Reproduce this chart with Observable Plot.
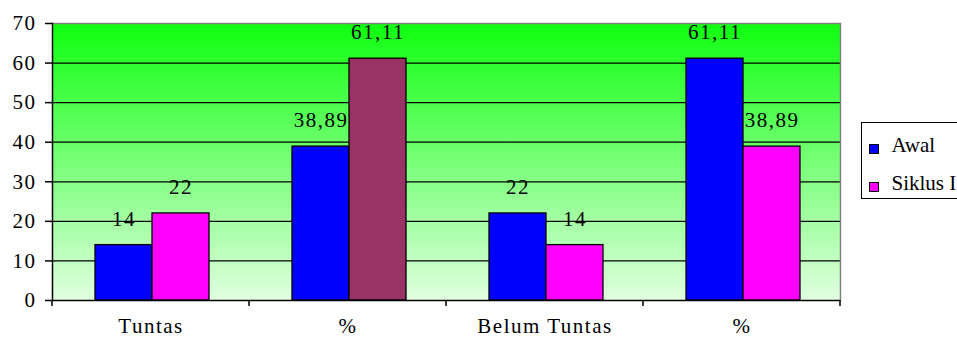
<!DOCTYPE html>
<html>
<head>
<meta charset="utf-8">
<script src="https://cdn.jsdelivr.net/npm/d3@7"></script>
<script src="https://cdn.jsdelivr.net/npm/@observablehq/plot@0.6"></script>
<style>
  body { margin: 0; background: #fff; }
  #wrap { position: relative; width: 957px; height: 337px; overflow: hidden; color: #000; }
  #wrap svg { position: absolute; left: 0; top: 0; }
  #wrap svg text { letter-spacing: 1.5px; }
  #legend { position: absolute; left: 861px; top: 122px; width: 110px; height: 77px;
            border: 1.5px solid #000; box-sizing: border-box; background: #fff; }
  #legend .sw { position: absolute; left: 6.5px; width: 10px; height: 10px;
                border: 1px solid #000; box-sizing: border-box; }
  #legend .lb { position: absolute; left: 29.5px; font-size: 21px; line-height: 20px; white-space: nowrap; }
</style>
</head>
<body>
<div id="wrap"></div>
<script>
// Categories along the x axis and the two series per category
const categories = ["Tuntas", "%", "Belum Tuntas", "%"];
const series = ["Awal", "Siklus I"];
const awal = [14, 38.89, 22, 61.11];
const siklusI = [22, 61.11, 14, 38.89];
const yTicks = [0, 10, 20, 30, 40, 50, 60, 70];

const seriesColors = ["#0000ff", "#ff00ff"];
const accentColor = "#993366";   // the Siklus I bar of the first "%" group
const accentGroup = 1;

const rows = categories.flatMap((c, i) => [
  {cat: i, series: series[0], value: awal[i]},
  {cat: i, series: series[1], value: siklusI[i]}
]);

const fillOf = d => (d.series === series[1] && d.cat === accentGroup)
  ? accentColor : seriesColors[series.indexOf(d.series)];
const fmt = v => String(v).replace(".", ",");
const catLabel = i => categories[i];

// pick the first Times-like face that is actually installed
function pickSerif(candidates) {
  const ctx = document.createElement("canvas").getContext("2d");
  const probe = "mmmmmmmmmmlliWWQ0123456789";
  const width = f => { ctx.font = "72px " + f; return ctx.measureText(probe).width; };
  const baseMono = width("monospace"), baseSans = width("sans-serif");
  for (const c of candidates) {
    if (width(`"${c}", monospace`) !== baseMono || width(`"${c}", sans-serif`) !== baseSans) return `"${c}"`;
  }
  return "serif";
}
const serif = pickSerif(["Liberation Serif", "Times New Roman", "Tinos", "Nimbus Roman", "FreeSerif",
                         "DejaVu Serif", "Noto Serif"]) + ", serif";
document.getElementById("wrap").style.fontFamily = serif;

const chart = Plot.plot({
  width: 957,
  height: 337,
  marginTop: 23,
  marginBottom: 37,
  marginLeft: 52,
  marginRight: 117,
  style: {fontFamily: serif, fontSize: "21px", color: "#000", background: "transparent"},
  fx: {domain: d3.range(categories.length), padding: 0, label: null},
  x: {domain: series, paddingInner: 0, paddingOuter: 0.728, align: 0.52, axis: null},
  y: {domain: [0, 70]},
  marks: [
    Plot.frame({fill: "url(#plot-bg)", stroke: null, facet: "super"}),
    Plot.ruleY(yTicks.slice(1, -1), {stroke: "#000", strokeWidth: 1.2}),
    Plot.ruleY([70], {stroke: "#808080", strokeWidth: 1.5}),
    Plot.frame({anchor: "right", stroke: "#808080", strokeWidth: 1.5, facet: "super"}),
    Plot.barY(rows, {fx: "cat", x: "series", y: "value", fill: fillOf, stroke: "#000", strokeWidth: 1.3}),
    Plot.text(rows, {fx: "cat", x: "series", y: "value", text: d => fmt(d.value), dy: -26,
                     fontSize: 21, fontFamily: serif, fill: "#000"}),
    Plot.frame({anchor: "left", stroke: "#000", strokeWidth: 1.5, facet: "super"}),
    Plot.ruleY([0], {stroke: "#000", strokeWidth: 1.5}),
    Plot.axisY({ticks: yTicks, tickSize: 7, tickPadding: 9, fontSize: 21, fontFamily: serif,
                stroke: "#000", strokeWidth: 1.5, label: null}),
    Plot.axisFx({anchor: "bottom", tickSize: 0, tickPadding: 18, fontSize: 21, fontFamily: serif,
                 tickFormat: catLabel, label: null})
  ]
});

// vertical gradient behind the plot area
const grad = d3.select(chart).insert("defs", ":first-child")
  .append("linearGradient")
  .attr("id", "plot-bg")
  .attr("x1", 0).attr("y1", 0).attr("x2", 0).attr("y2", 1);
grad.append("stop").attr("offset", 0).attr("stop-color", "#10ff10");
grad.append("stop").attr("offset", 1).attr("stop-color", "#e0ffe0");

// category separator ticks below the x axis
const fxScale = chart.scale("fx");
const yScale = chart.scale("y");
const edges = fxScale.domain.map(d => fxScale.apply(d));
edges.push(edges[edges.length - 1] + fxScale.bandwidth);
const y0 = yScale.apply(0);
d3.select(chart).append("g")
  .attr("stroke", "#000").attr("stroke-width", 1.5)
  .selectAll("line").data(edges).join("line")
  .attr("x1", d => d).attr("x2", d => d)
  .attr("y1", y0).attr("y2", y0 + 6);

const wrap = document.getElementById("wrap");
wrap.appendChild(chart);

// legend
const legend = d3.select(wrap).append("div").attr("id", "legend");
series.forEach((s, i) => {
  const top = 20.5 + i * 38;
  legend.append("div").attr("class", "sw")
    .style("top", top + "px").style("background", seriesColors[i]);
  legend.append("div").attr("class", "lb")
    .style("top", (top - 9) + "px").text(s);
});
</script>
</body>
</html>
